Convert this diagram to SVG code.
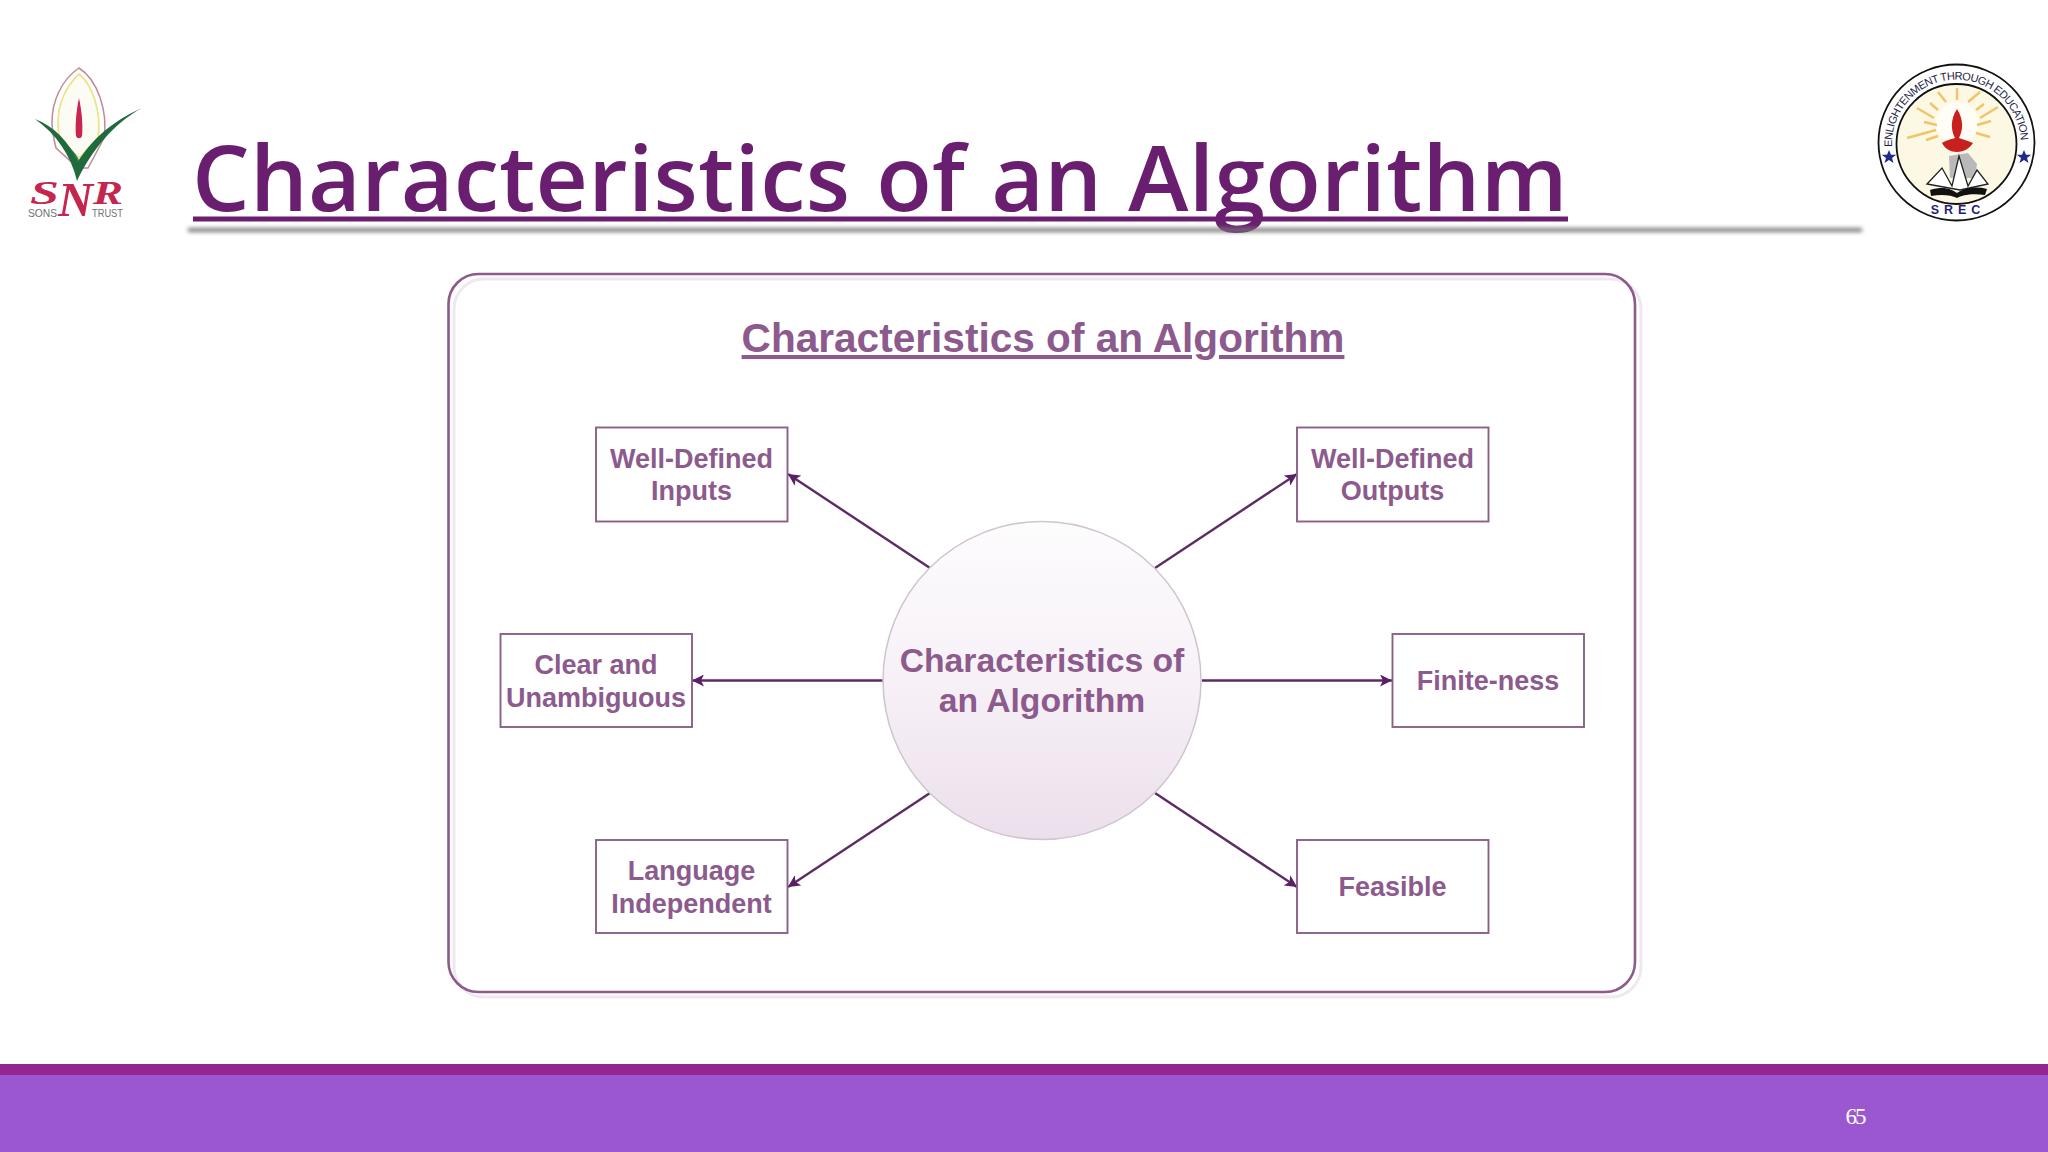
<svg xmlns="http://www.w3.org/2000/svg" width="2048" height="1152" viewBox="0 0 2048 1152">
<style>
.box{fill:#fff;stroke:#8a6088;stroke-width:1.900}
.lbl{font-family:"Liberation Sans",Arial,sans-serif;font-weight:700;font-size:27px;fill:#8c5a8c;text-anchor:middle}
.hubl{font-size:33.700px}
.conn{stroke:#5e2a66;stroke-width:2.400;fill:none;marker-end:url(#arr)}
.ls{font-family:"Liberation Sans",Arial,sans-serif;fill:#1d1d3f}
.snr{font-family:"Liberation Serif",serif;font-style:italic;font-weight:700;fill:#c4264f}
.sub{font-family:"Liberation Sans",sans-serif;fill:#6f6f6f}
</style>
<defs>
<marker id="arr" markerUnits="userSpaceOnUse" markerWidth="14" markerHeight="12" refX="12" refY="6" orient="auto"><path d="M0 0L12 6L0 12L3 6Z" fill="#5a1f66"/></marker>
<linearGradient id="cg" x1="0" y1="0" x2="0" y2="1"><stop offset="0" stop-color="#fdfcfd"/><stop offset="0.5" stop-color="#f7f1f7"/><stop offset="1" stop-color="#ebdfeb"/></linearGradient>
<filter id="bl" x="-5%" y="-200%" width="110%" height="500%"><feGaussianBlur stdDeviation="2"/></filter>
<path id="ring" d="M1892 147A64.500 64.500 0 1 1 2020 155"/>
<path id="star" d="M0 -7L2 -2.200L7.200 -2.200L3 1L4.500 6L0 3L-4.500 6L-3 1L-7.200 -2.200L-2 -2.200Z" fill="#1f2a8a"/>
</defs>
<rect width="2048" height="1152" fill="#fff"/>

<g id="logo-snr">
<path d="M79 68C61 80 52 102 52 122C52 132 54 140 56 148L78 168L88 168L104 138C108 112 98 80 79 68Z" fill="#fff" stroke="#c08a98" stroke-width="1.500"/>
<path d="M79 74C66 86 58 104 58 122C58 130 59 136 61 142L79 158L98 138C102 112 92 84 79 74Z" fill="#fdfcf4" stroke="#ece48c" stroke-width="1.800"/>
<path d="M79 98C76 112 75 126 76 136C77 139 81 139 82 136C83 126 82 112 79 98Z" fill="#c8264f"/>
<path d="M62 141C69 146 75 152 79 160C84 152 92 145 102 140C92 148 84 158 79 168C75 158 70 149 62 141Z" fill="#3c7d55"/>
<path d="M35 119C55 127 69 142 78 162C90 142 110 122 142 108C113 124 92 150 77 181C71 155 56 134 35 119Z" fill="#1f6b3d"/>
<text class="snr" x="30" y="204" font-size="33" textLength="29" lengthAdjust="spacingAndGlyphs">S</text>
<text class="snr" x="58" y="216" font-size="48" textLength="35" lengthAdjust="spacingAndGlyphs">N</text>
<text class="snr" x="93" y="204" font-size="33" textLength="30" lengthAdjust="spacingAndGlyphs">R</text>
<text class="sub" x="28" y="217" font-size="10.500" textLength="29" lengthAdjust="spacingAndGlyphs">SONS</text>
<text class="sub" x="92" y="217" font-size="10.500" textLength="31" lengthAdjust="spacingAndGlyphs">TRUST</text>
</g>

<g id="logo-srec">
<circle cx="1956.500" cy="142.500" r="78" fill="#fff" stroke="#111" stroke-width="1.800"/>
<circle cx="1956.500" cy="144" r="60" fill="#fdf8e4" stroke="#111" stroke-width="1.800"/>
<circle cx="1957" cy="123" r="21" fill="#fffdf5"/>
<g stroke="#eec56a" stroke-width="2.400" fill="none">
<path d="M1934 118L1917 108M1936 130L1907 138M1980 118L1998 107M1957 100L1957 88M1946 102L1938 92M1968 102L1980 92M1937 125L1924 122M1977 125L1991 121M1938 136L1926 140M1976 133L1990 137M1938 110L1930 103M1976 110L1984 104"/>
</g>
<path d="M1957 109C1950 120 1951 130 1955 138C1948 140 1945 141 1942 143C1945 149 1951 152 1957 152C1964 152 1970 148 1973 143C1969 141 1964 140 1959 138C1963 130 1964 120 1957 109Z" fill="#c81f1f"/>
<path d="M1949 156L1968 153L1977 164L1975 178L1950 178Z" fill="#b9b9b9"/>
<path d="M1927 184L1942 168L1952 186L1959 156L1968 186L1977 170L1988 184L1960 190Z" stroke="#222" stroke-width="1.300" fill="#fff"/>
<path d="M1930 190C1944 186 1951 189 1957 193C1964 188 1976 186 1987 189L1985 195C1972 193 1962 195 1957 198C1951 195 1942 194 1931 196Z" fill="#111"/>
<text class="ls" font-size="11" letter-spacing="-0.600"><textPath href="#ring">ENLIGHTENMENT THROUGH EDUCATION</textPath></text>
<text class="ls" x="1958" y="214" font-size="12.500" font-weight="700" text-anchor="middle" letter-spacing="5" style="fill:#1f1f7a">SREC</text>
<use href="#star" x="1889" y="157"/>
<use href="#star" x="2024" y="157"/>
</g>

<g id="slide-title">
<rect x="193" y="216.500" width="1375" height="5" fill="#6a1e6f"/>
<text x="192" y="211" font-family="'Open Sans','Noto Sans',sans-serif" font-weight="600" font-size="91" fill="#6a1e6f" letter-spacing="0.300" word-spacing="2">Characteristics of an Algorithm</text>
<rect x="188" y="228" width="1674" height="4" fill="#777" filter="url(#bl)"/>
</g>

<g id="panel">
<rect x="448.500" y="274" width="1186.500" height="718" rx="30" fill="#fff"/>
<rect x="454" y="279" width="1187" height="718" rx="30" fill="none" stroke="#efe8ef" stroke-width="3"/>
<rect x="448.500" y="274" width="1186.500" height="718" rx="30" fill="none" stroke="#8e5a8c" stroke-width="2.600"/>
<text x="1043" y="352" font-family="'Liberation Sans',Arial,sans-serif" font-weight="700" font-size="40.600" fill="#8c5a8c" text-anchor="middle" text-decoration="underline">Characteristics of an Algorithm</text>
</g>

<g id="connectors">
<line x1="930" y1="568" x2="788" y2="474" class="conn"/>
<line x1="1155" y1="568" x2="1297" y2="474" class="conn"/>
<line x1="883" y1="680.500" x2="692" y2="680.500" class="conn"/>
<line x1="1202" y1="680.500" x2="1392" y2="680.500" class="conn"/>
<line x1="930" y1="793" x2="788" y2="887" class="conn"/>
<line x1="1155" y1="793" x2="1297" y2="887" class="conn"/>
</g>

<g id="hub">
<circle cx="1042" cy="680.500" r="159" fill="url(#cg)" stroke="#cfc4cf" stroke-width="1.500"/>
<text class="lbl hubl" x="1042" y="672">Characteristics of</text>
<text class="lbl hubl" x="1042" y="712">an Algorithm</text>
</g>
<g id="n-inputs"><rect class="box" x="596" y="427.500" width="191.500" height="94"/><text class="lbl" x="691.500" y="468">Well-Defined</text><text class="lbl" x="691.500" y="500">Inputs</text></g>
<g id="n-outputs"><rect class="box" x="1297" y="427.500" width="191.500" height="94"/><text class="lbl" x="1392.500" y="468">Well-Defined</text><text class="lbl" x="1392.500" y="500">Outputs</text></g>
<g id="n-clear"><rect class="box" x="500.500" y="634" width="191.500" height="93"/><text class="lbl" x="596" y="674">Clear and</text><text class="lbl" x="596" y="707">Unambiguous</text></g>
<g id="n-finite"><rect class="box" x="1392.500" y="634" width="191.500" height="93"/><text class="lbl" x="1488" y="690">Finite-ness</text></g>
<g id="n-language"><rect class="box" x="596" y="840" width="191.500" height="93"/><text class="lbl" x="691.500" y="880">Language</text><text class="lbl" x="691.500" y="913">Independent</text></g>
<g id="n-feasible"><rect class="box" x="1297" y="840" width="191.500" height="93"/><text class="lbl" x="1392.500" y="896">Feasible</text></g>

<g id="footer">
<rect y="1064" width="2048" height="11" fill="#93278f"/>
<rect y="1075" width="2048" height="77" fill="#9a57d0"/>
<text x="1855" y="1124" font-family="'Liberation Serif',serif" font-size="23" fill="#fff" text-anchor="middle" letter-spacing="-2">65</text>
</g>
</svg>
